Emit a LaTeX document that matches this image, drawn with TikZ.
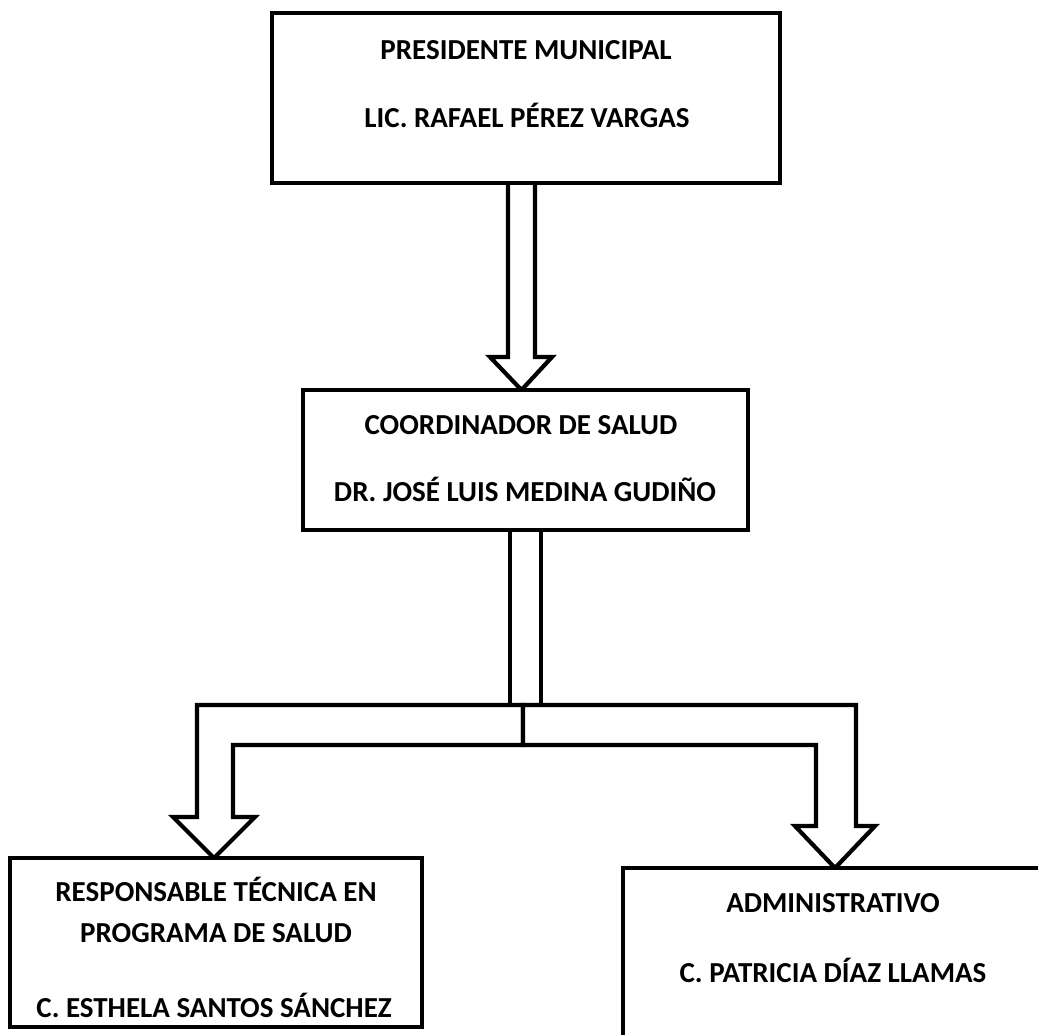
\documentclass[tikz,border=0pt]{standalone}
\usepackage{fontspec}
\setmainfont{Carlito}
\begin{document}
\begin{tikzpicture}[x=0.5pt,y=-0.5pt,
  box/.style={draw, line width=2.1pt, fill=white, inner sep=0pt},
  lbl/.style={font=\fontsize{14.5}{17}\selectfont\bfseries, inner sep=0pt, anchor=base},
  blockarrow/.style={draw, line width=2.1pt, fill=white, line join=miter}]
\useasboundingbox (0,0) rectangle (1038,1034);
% block arrows (drawn first, boxes cover their ends)
\draw[blockarrow] (508,180) -- (508,357) -- (490,357) -- (521.5,390) -- (552,357) -- (535,357) -- (535,180);
\draw[blockarrow] (510,528) rectangle (541,705);
\draw[blockarrow] (523,705) -- (197,705) -- (197,817) -- (173,817) -- (214,858) -- (255,817) -- (233,817) -- (233,745) -- (523,745) -- cycle;
\draw[blockarrow] (523,705) -- (856,705) -- (856,826) -- (875,826) -- (835,868) -- (795,826) -- (816,826) -- (816,745) -- (523,745) -- cycle;
% boxes
\node[box, minimum width=254pt, minimum height=85pt] (top) at (526,98) {};
\node[box, minimum width=222.5pt, minimum height=70pt] (mid) at (525.5,460) {};
\node[box, minimum width=206pt, minimum height=84.5pt] (left) at (216,942.5) {};
\node[box, minimum width=211pt, minimum height=86pt] (right) at (834,954) {};
% texts
\node[lbl] (t1) at (526,59) {PRESIDENTE MUNICIPAL};
\node[lbl] (t2) at (527,127) {LIC. RAFAEL PÉREZ VARGAS};
\node[lbl] (m1) at (521,434) {COORDINADOR DE SALUD};
\node[lbl] (m2) at (525,501) {DR. JOSÉ LUIS MEDINA GUDIÑO};
\node[lbl] (l1) at (216,901) {RESPONSABLE TÉCNICA EN};
\node[lbl] (l2) at (216,942) {PROGRAMA DE SALUD};
\node[lbl] (l3) at (214,1017) {C. ESTHELA SANTOS SÁNCHEZ};
\node[lbl] (r1) at (833,912) {ADMINISTRATIVO};
\node[lbl] (r2) at (833,982) {C. PATRICIA DÍAZ LLAMAS};
\end{tikzpicture}
\end{document}
